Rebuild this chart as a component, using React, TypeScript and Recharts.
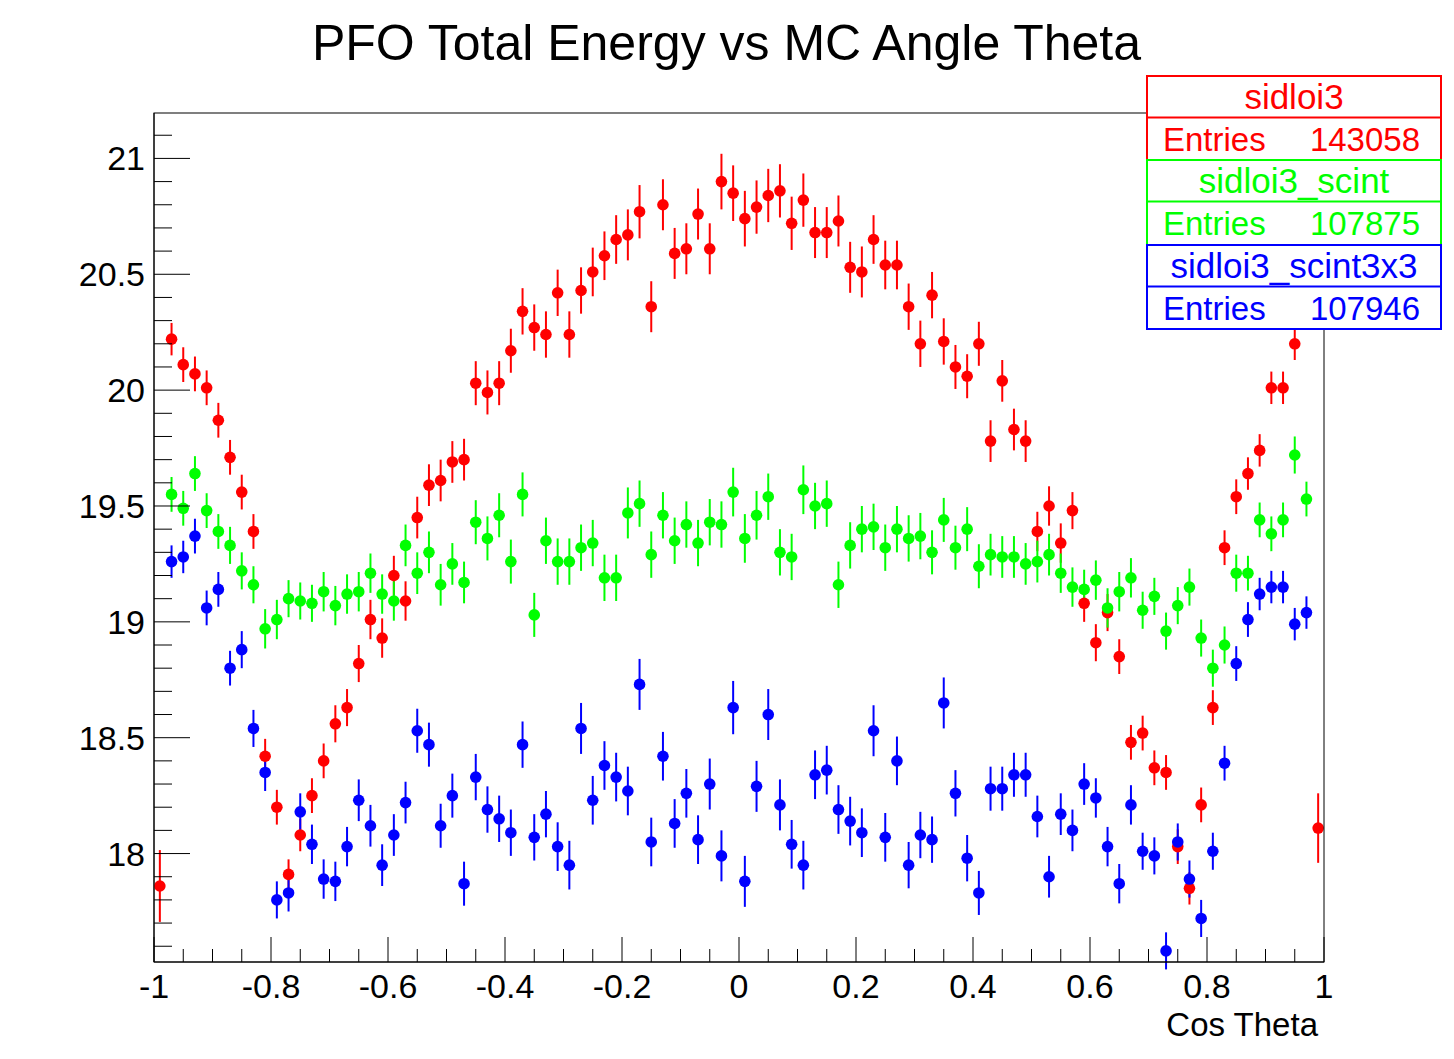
import React from 'react';
import { ScatterChart, Scatter, XAxis, YAxis, ErrorBar } from 'recharts';

const FONT = '"Liberation Sans", Arial, Helvetica, sans-serif';

// 100 bins over cos(theta) in [-1, 1]
const binCenters = Array.from({ length: 100 }, (_, i) => Math.round((-0.99 + 0.02 * i) * 1000) / 1000);

const sidloi3 = [
  17.86, 20.22, 20.11, 20.07, 20.01, 19.87, 19.71, 19.56, 19.39, 18.42,
  18.20, 17.91, 18.08, 18.25, 18.40, 18.56, 18.63, 18.82, 19.01, 18.93,
  19.20, 19.09, 19.45, 19.59, 19.61, 19.69, 19.70, 20.03, 19.99, 20.03,
  20.17, 20.34, 20.27, 20.24, 20.42, 20.24, 20.43, 20.51, 20.58, 20.65,
  20.67, 20.77, 20.36, 20.80, 20.59, 20.61, 20.76, 20.61, 20.90, 20.85,
  20.74, 20.79, 20.84, 20.86, 20.72, 20.82, 20.68, 20.68, 20.73, 20.53,
  20.51, 20.65, 20.54, 20.54, 20.36, 20.20, 20.41, 20.21, 20.10, 20.06,
  20.20, 19.78, 20.04, 19.83, 19.78, 19.39, 19.50, 19.34, 19.48, 19.08,
  18.91, 19.04, 18.85, 18.48, 18.52, 18.37, 18.35, 18.03, 17.85, 18.21,
  18.63, 19.32, 19.54, 19.64, 19.74, 20.01, 20.01, 20.20, 20.40, 18.11,
];
const sidloi3Err = [
  0.155, 0.07, 0.075, 0.075, 0.075, 0.075, 0.075, 0.075, 0.075, 0.075,
  0.075, 0.065, 0.07, 0.075, 0.075, 0.08, 0.08, 0.08, 0.085, 0.085,
  0.085, 0.085, 0.09, 0.09, 0.09, 0.09, 0.09, 0.095, 0.095, 0.095,
  0.095, 0.1, 0.1, 0.1, 0.1, 0.1, 0.1, 0.105, 0.105, 0.105,
  0.11, 0.115, 0.11, 0.11, 0.11, 0.11, 0.11, 0.11, 0.12, 0.12,
  0.12, 0.115, 0.115, 0.115, 0.115, 0.115, 0.11, 0.11, 0.11, 0.11,
  0.11, 0.105, 0.105, 0.105, 0.1, 0.1, 0.1, 0.1, 0.095, 0.095,
  0.095, 0.09, 0.09, 0.09, 0.09, 0.085, 0.085, 0.085, 0.08, 0.08,
  0.08, 0.08, 0.075, 0.075, 0.075, 0.075, 0.075, 0.075, 0.07, 0.075,
  0.075, 0.075, 0.075, 0.07, 0.07, 0.07, 0.07, 0.07, 0.07, 0.15,
];

const sidloi3Scint = [
  null, 19.55, 19.49, 19.64, 19.48, 19.39, 19.33, 19.22, 19.16, 18.97,
  19.01, 19.10, 19.09, 19.08, 19.13, 19.07, 19.12, 19.13, 19.21, 19.12,
  19.09, 19.33, 19.21, 19.30, 19.16, 19.25, 19.17, 19.43, 19.36, 19.46,
  19.26, 19.55, 19.03, 19.35, 19.26, 19.26, 19.32, 19.34, 19.19, 19.19,
  19.47, 19.51, 19.29, 19.46, 19.35, 19.42, 19.34, 19.43, 19.42, 19.56,
  19.36, 19.46, 19.54, 19.30, 19.28, 19.57, 19.50, 19.51, 19.16, 19.33,
  19.40, 19.41, 19.32, 19.40, 19.36, 19.37, 19.30, 19.44, 19.32, 19.40,
  19.24, 19.29, 19.28, 19.28, 19.25, 19.26, 19.29, 19.21, 19.15, 19.14,
  19.18, 19.06, 19.13, 19.19, 19.05, 19.11, 18.96, 19.07, 19.15, 18.93,
  18.80, 18.90, 19.21, 19.21, 19.44, 19.38, 19.44, 19.72, 19.53, null,
];
const sidloi3ScintErr = [
  0, 0.075, 0.075, 0.075, 0.075, 0.075, 0.08, 0.08, 0.08, 0.085,
  0.085, 0.08, 0.08, 0.08, 0.085, 0.085, 0.085, 0.085, 0.085, 0.085,
  0.085, 0.09, 0.09, 0.09, 0.09, 0.09, 0.09, 0.095, 0.095, 0.095,
  0.095, 0.095, 0.095, 0.1, 0.1, 0.1, 0.1, 0.1, 0.1, 0.1,
  0.11, 0.1, 0.1, 0.1, 0.1, 0.1, 0.1, 0.1, 0.1, 0.105,
  0.105, 0.105, 0.1, 0.1, 0.1, 0.105, 0.1, 0.1, 0.1, 0.1,
  0.1, 0.1, 0.1, 0.1, 0.1, 0.1, 0.095, 0.095, 0.095, 0.095,
  0.095, 0.09, 0.09, 0.09, 0.09, 0.09, 0.09, 0.085, 0.085, 0.085,
  0.085, 0.085, 0.085, 0.085, 0.08, 0.08, 0.08, 0.08, 0.08, 0.08,
  0.08, 0.08, 0.08, 0.075, 0.075, 0.075, 0.075, 0.08, 0.075, 0,
];

const sidloi3Scint3x3 = [
  null, 19.26, 19.28, 19.37, 19.06, 19.14, 18.80, 18.88, 18.54, 18.35,
  17.80, 17.83, 18.18, 18.04, 17.89, 17.88, 18.03, 18.23, 18.12, 17.95,
  18.08, 18.22, 18.53, 18.47, 18.12, 18.25, 17.87, 18.33, 18.19, 18.15,
  18.09, 18.47, 18.07, 18.17, 18.03, 17.95, 18.54, 18.23, 18.38, 18.33,
  18.27, 18.73, 18.05, 18.42, 18.13, 18.26, 18.06, 18.30, 17.99, 18.63,
  17.88, 18.29, 18.60, 18.21, 18.04, 17.95, 18.34, 18.36, 18.19, 18.14,
  18.09, 18.53, 18.07, 18.40, 17.95, 18.08, 18.06, 18.65, 18.26, 17.98,
  17.83, 18.28, 18.28, 18.34, 18.34, 18.16, 17.90, 18.17, 18.10, 18.30,
  18.24, 18.03, 17.87, 18.21, 18.01, 17.99, 17.58, 18.05, 17.89, 17.72,
  18.01, 18.39, 18.82, 19.01, 19.12, 19.15, 19.15, 18.99, 19.04, null,
];
const sidloi3Scint3x3Err = [
  0, 0.07, 0.07, 0.075, 0.075, 0.075, 0.075, 0.08, 0.08, 0.08,
  0.08, 0.08, 0.08, 0.085, 0.085, 0.085, 0.085, 0.09, 0.09, 0.09,
  0.09, 0.09, 0.095, 0.095, 0.095, 0.095, 0.095, 0.1, 0.1, 0.1,
  0.1, 0.1, 0.1, 0.1, 0.105, 0.105, 0.11, 0.105, 0.105, 0.105,
  0.105, 0.11, 0.105, 0.105, 0.105, 0.105, 0.105, 0.11, 0.11, 0.115,
  0.11, 0.11, 0.11, 0.11, 0.105, 0.105, 0.105, 0.105, 0.105, 0.105,
  0.105, 0.11, 0.105, 0.105, 0.1, 0.1, 0.1, 0.11, 0.1, 0.1,
  0.095, 0.095, 0.095, 0.095, 0.095, 0.09, 0.09, 0.09, 0.09, 0.09,
  0.085, 0.085, 0.085, 0.085, 0.08, 0.08, 0.08, 0.08, 0.08, 0.08,
  0.08, 0.075, 0.075, 0.075, 0.07, 0.07, 0.07, 0.07, 0.07, 0,
];

const seriesNames = ['sidloi3', 'sidloi3_scint', 'sidloi3_scint3x3'];
const seriesEntries = ['143058', '107875', '107946'];
const seriesColors = ['#ff0000', '#00ff00', '#0000ff'];

const xMajorTicks = [-1, -0.8, -0.6, -0.4, -0.2, 0, 0.2, 0.4, 0.6, 0.8, 1];
const xTickLabels = ['-1', '-0.8', '-0.6', '-0.4', '-0.2', '0', '0.2', '0.4', '0.6', '0.8', '1'];
const xTicks = Array.from({ length: 41 }, (_, i) => Math.round((-1 + 0.05 * i) * 100) / 100);

const yMajorTicks = [18, 18.5, 19, 19.5, 20, 20.5, 21];
const yTickLabels = ['18', '18.5', '19', '19.5', '20', '20.5', '21'];
const yTicks = Array.from({ length: 36 }, (_, i) => Math.round((17.6 + 0.1 * i) * 10) / 10);

const toPoints = (vals: (number | null)[], errs: number[]) =>
  binCenters
    .map((x, i) => ({ x, y: vals[i], err: errs[i] }))
    .filter((p) => p.y !== null);

const series = [
  toPoints(sidloi3, sidloi3Err),
  toPoints(sidloi3Scint, sidloi3ScintErr),
  toPoints(sidloi3Scint3x3, sidloi3Scint3x3Err),
];

const findIdx = (list: number[], v: number) => list.findIndex((t) => Math.abs(t - v) < 1e-6);

const XTick = (props: any) => {
  const { x, y, payload } = props;
  const idx = findIdx(xMajorTicks, payload.value);
  const major = idx >= 0;
  return (
    <g>
      <line x1={x} x2={x} y1={y} y2={y - (major ? 25 : 13)} stroke="#000" strokeWidth={1} />
      {major && (
        <text x={x} y={y + 36} textAnchor="middle" fontSize={34} fontFamily={FONT} fill="#000">
          {xTickLabels[idx]}
        </text>
      )}
    </g>
  );
};

const YTick = (props: any) => {
  const { x, y, payload } = props;
  const idx = findIdx(yMajorTicks, payload.value);
  const major = idx >= 0;
  return (
    <g>
      <line x1={x} x2={x + (major ? 36 : 18)} y1={y} y2={y} stroke="#000" strokeWidth={1} />
      {major && (
        <text x={x - 9} y={y + 12} textAnchor="end" fontSize={34} fontFamily={FONT} fill="#000">
          {yTickLabels[idx]}
        </text>
      )}
    </g>
  );
};

const dot = (color: string) => (p: any) => <circle cx={p.cx} cy={p.cy} r={5.8} fill={color} />;

const boxTops = [76, 160, 245];
const boxHeights = [84, 85, 84];

export default function App() {
  return (
    <div style={{ position: 'absolute', left: 0, top: 0, width: 1454, height: 1059, background: '#fff' }}>
      <ScatterChart width={1454} height={1059} margin={{ top: 113, right: 130, bottom: 67, left: 0 }}>
        <XAxis
          type="number"
          dataKey="x"
          domain={[-1, 1]}
          ticks={xTicks}
          interval={0}
          height={30}
          tickSize={0}
          tickMargin={0}
          tickLine={false}
          axisLine={{ stroke: '#000' }}
          tick={XTick}
          allowDataOverflow
        />
        <YAxis
          type="number"
          dataKey="y"
          domain={[17.532, 21.196]}
          ticks={yTicks}
          interval={0}
          width={154}
          tickSize={0}
          tickMargin={0}
          tickLine={false}
          axisLine={{ stroke: '#000' }}
          tick={YTick}
          allowDataOverflow
        />
        {series.map((data, s) => (
          <Scatter
            key={seriesNames[s]}
            name={seriesNames[s]}
            data={data}
            fill={seriesColors[s]}
            shape={dot(seriesColors[s])}
            isAnimationActive={false}
          >
            <ErrorBar
              dataKey="err"
              direction="y"
              width={0}
              stroke={seriesColors[s]}
              strokeWidth={2}
              isAnimationActive={false}
            />
          </Scatter>
        ))}
      </ScatterChart>

      <svg
        width={1454}
        height={1059}
        style={{ position: 'absolute', left: 0, top: 0, pointerEvents: 'none' }}
        fontFamily={FONT}
      >
        <rect x={154} y={113} width={1170} height={849} fill="none" stroke="#000" strokeWidth={1} />
        <text x={726.5} y={60} textAnchor="middle" fontSize={50} fill="#000">
          PFO Total Energy vs MC Angle Theta
        </text>
        <text x={1318} y={1036} textAnchor="end" fontSize={33} fill="#000">
          Cos Theta
        </text>
        {seriesNames.map((name, s) => {
          const top = boxTops[s];
          const h = boxHeights[s];
          const c = seriesColors[s];
          return (
            <g key={name}>
              <rect x={1147} y={top} width={294} height={h} fill="#fff" stroke={c} strokeWidth={2} />
              <line x1={1147} x2={1441} y1={top + 41.5} y2={top + 41.5} stroke={c} strokeWidth={2} />
              <text x={1294} y={top + 33} textAnchor="middle" fontSize={35} fill={c}>
                {name}
              </text>
              <text x={1163} y={top + 75} fontSize={33} fill={c}>
                Entries
              </text>
              <text x={1420} y={top + 75} textAnchor="end" fontSize={33} fill={c}>
                {seriesEntries[s]}
              </text>
            </g>
          );
        })}
      </svg>
    </div>
  );
}
